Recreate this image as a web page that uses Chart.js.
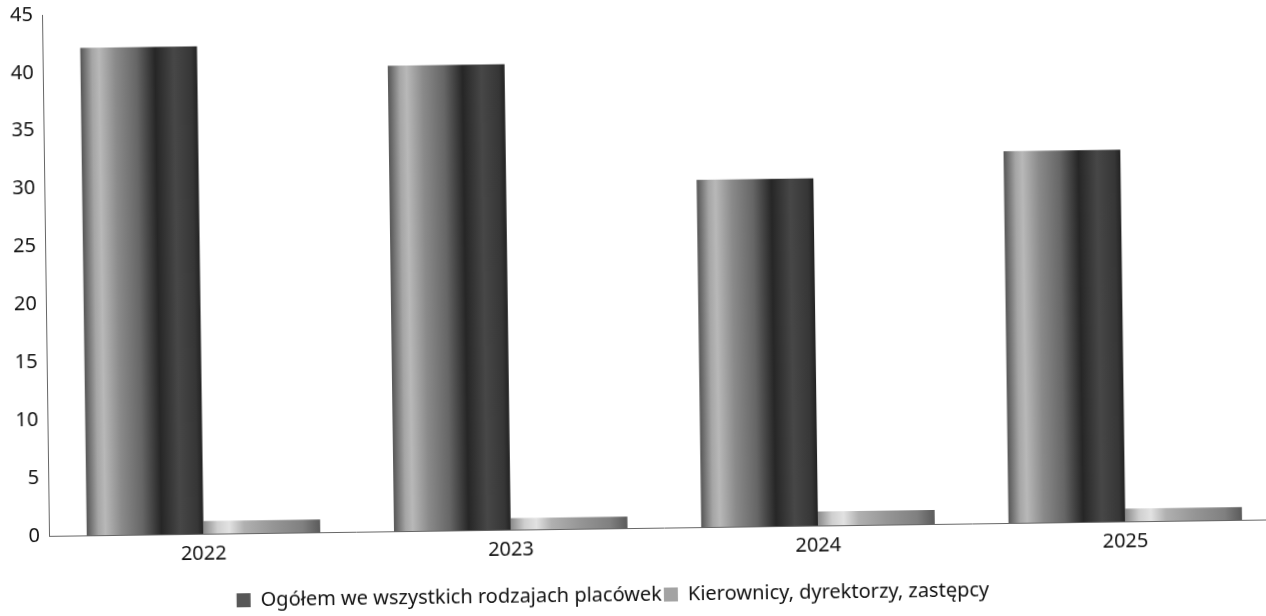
<!DOCTYPE html>
<html><head><meta charset="utf-8">
<script src="https://cdn.jsdelivr.net/npm/chart.js@4"></script>
<style>
html,body{margin:0;padding:0;overflow:hidden;background:#fff;width:1266px;height:616px}
#wrap{position:absolute;left:0;top:-15px;width:1276px;height:631px;transform-origin:633px 323px;transform:rotate(-0.77deg)}
</style></head><body>
<div id="wrap"><canvas id="c" width="1276" height="631"></canvas></div>
<script>
const categories = ['2022', '2023', '2024', '2025'];
const totalAll = [42.1, 40.2, 30.0, 32.1];
const managers = [1.1, 1.0, 1.2, 1.1];
const seriesNames = ['Ogółem we wszystkich rodzajach placówek', 'Kierownicy, dyrektorzy, zastępcy'];
const yMax = 45;
const yStep = 5;

const CAT_PCT = 0.76;
const darkStops = [[0,'#555'],[0.1,'#a5a5a5'],[0.16,'#b8b8b8'],[0.3,'#8a8a8a'],[0.48,'#666'],[0.64,'#262626'],[0.8,'#474747'],[0.95,'#363636'],[1,'#222']];
const lightStops = [[0,'#8a8a8a'],[0.12,'#cfcfcf'],[0.22,'#e2e2e2'],[0.35,'#b0b0b0'],[0.6,'#959595'],[0.85,'#808080'],[1,'#5a5a5a']];
const legendColors = ['#575757', '#a3a3a3'];

function barFill(stops, fallback){
  return function(ctx){
    if (ctx.type !== 'data') return fallback;
    const chart = ctx.chart; const xs = chart.scales.x;
    if (!xs || !chart.chartArea || !xs.width) return fallback;
    const cw = xs.width / categories.length;
    const bw = cw * CAT_PCT / 2;
    const center = xs.getPixelForValue(ctx.dataIndex);
    const left = center - cw * CAT_PCT / 2 + ctx.datasetIndex * bw;
    const g = chart.ctx.createLinearGradient(left, 0, left + bw, 0);
    stops.forEach(s => g.addColorStop(s[0], s[1]));
    return g;
  };
}

const legendShift = {
  id: 'legendShift',
  beforeDraw(chart) {
    const lg = chart.legend;
    if (lg && !lg._shifted) { lg.left -= 31; lg.right -= 31; lg._shifted = true; }
  }
};

new Chart(document.getElementById('c'), {
  type: 'bar',
  plugins: [legendShift],
  data: {
    labels: categories,
    datasets: [
      { label: seriesNames[0], data: totalAll, backgroundColor: barFill(darkStops, legendColors[0]), borderWidth: 0, categoryPercentage: CAT_PCT, barPercentage: 1 },
      { label: seriesNames[1], data: managers, backgroundColor: barFill(lightStops, legendColors[1]), borderWidth: 0, categoryPercentage: CAT_PCT, barPercentage: 1 }
    ]
  },
  options: {
    responsive: false,
    animation: false,
    devicePixelRatio: 1,
    layout: { padding: { top: 0, left: 4, right: 0, bottom: 1 } },
    scales: {
      x: {
        grid: { display: false, drawTicks: false },
        border: { display: true, color: '#666', dash: [2, 2], width: 1 },
        ticks: { color: '#111', font: { family: '"Noto Sans", sans-serif', size: 20 }, padding: 8 },
        afterFit(scale) { scale.height += 15; }
      },
      y: {
        min: 0, max: yMax,
        grid: { display: false, drawTicks: false },
        border: { display: true, color: '#666', dash: [2, 2], width: 1 },
        ticks: { stepSize: yStep, color: '#111', font: { family: '"Noto Sans", sans-serif', size: 20 }, padding: 10 }
      }
    },
    plugins: {
      legend: {
        position: 'bottom',
        labels: {
          boxWidth: 14, boxHeight: 14, padding: 2, color: '#111',
          font: { family: '"Noto Sans", sans-serif', size: 20 },
          generateLabels(chart) {
            const items = Chart.defaults.plugins.legend.labels.generateLabels(chart);
            items.forEach((it, i) => { it.fillStyle = legendColors[i]; it.strokeStyle = legendColors[i]; it.lineWidth = 0; });
            return items;
          }
        }
      },
      tooltip: { enabled: false }
    }
  }
});
</script>
</body></html>
